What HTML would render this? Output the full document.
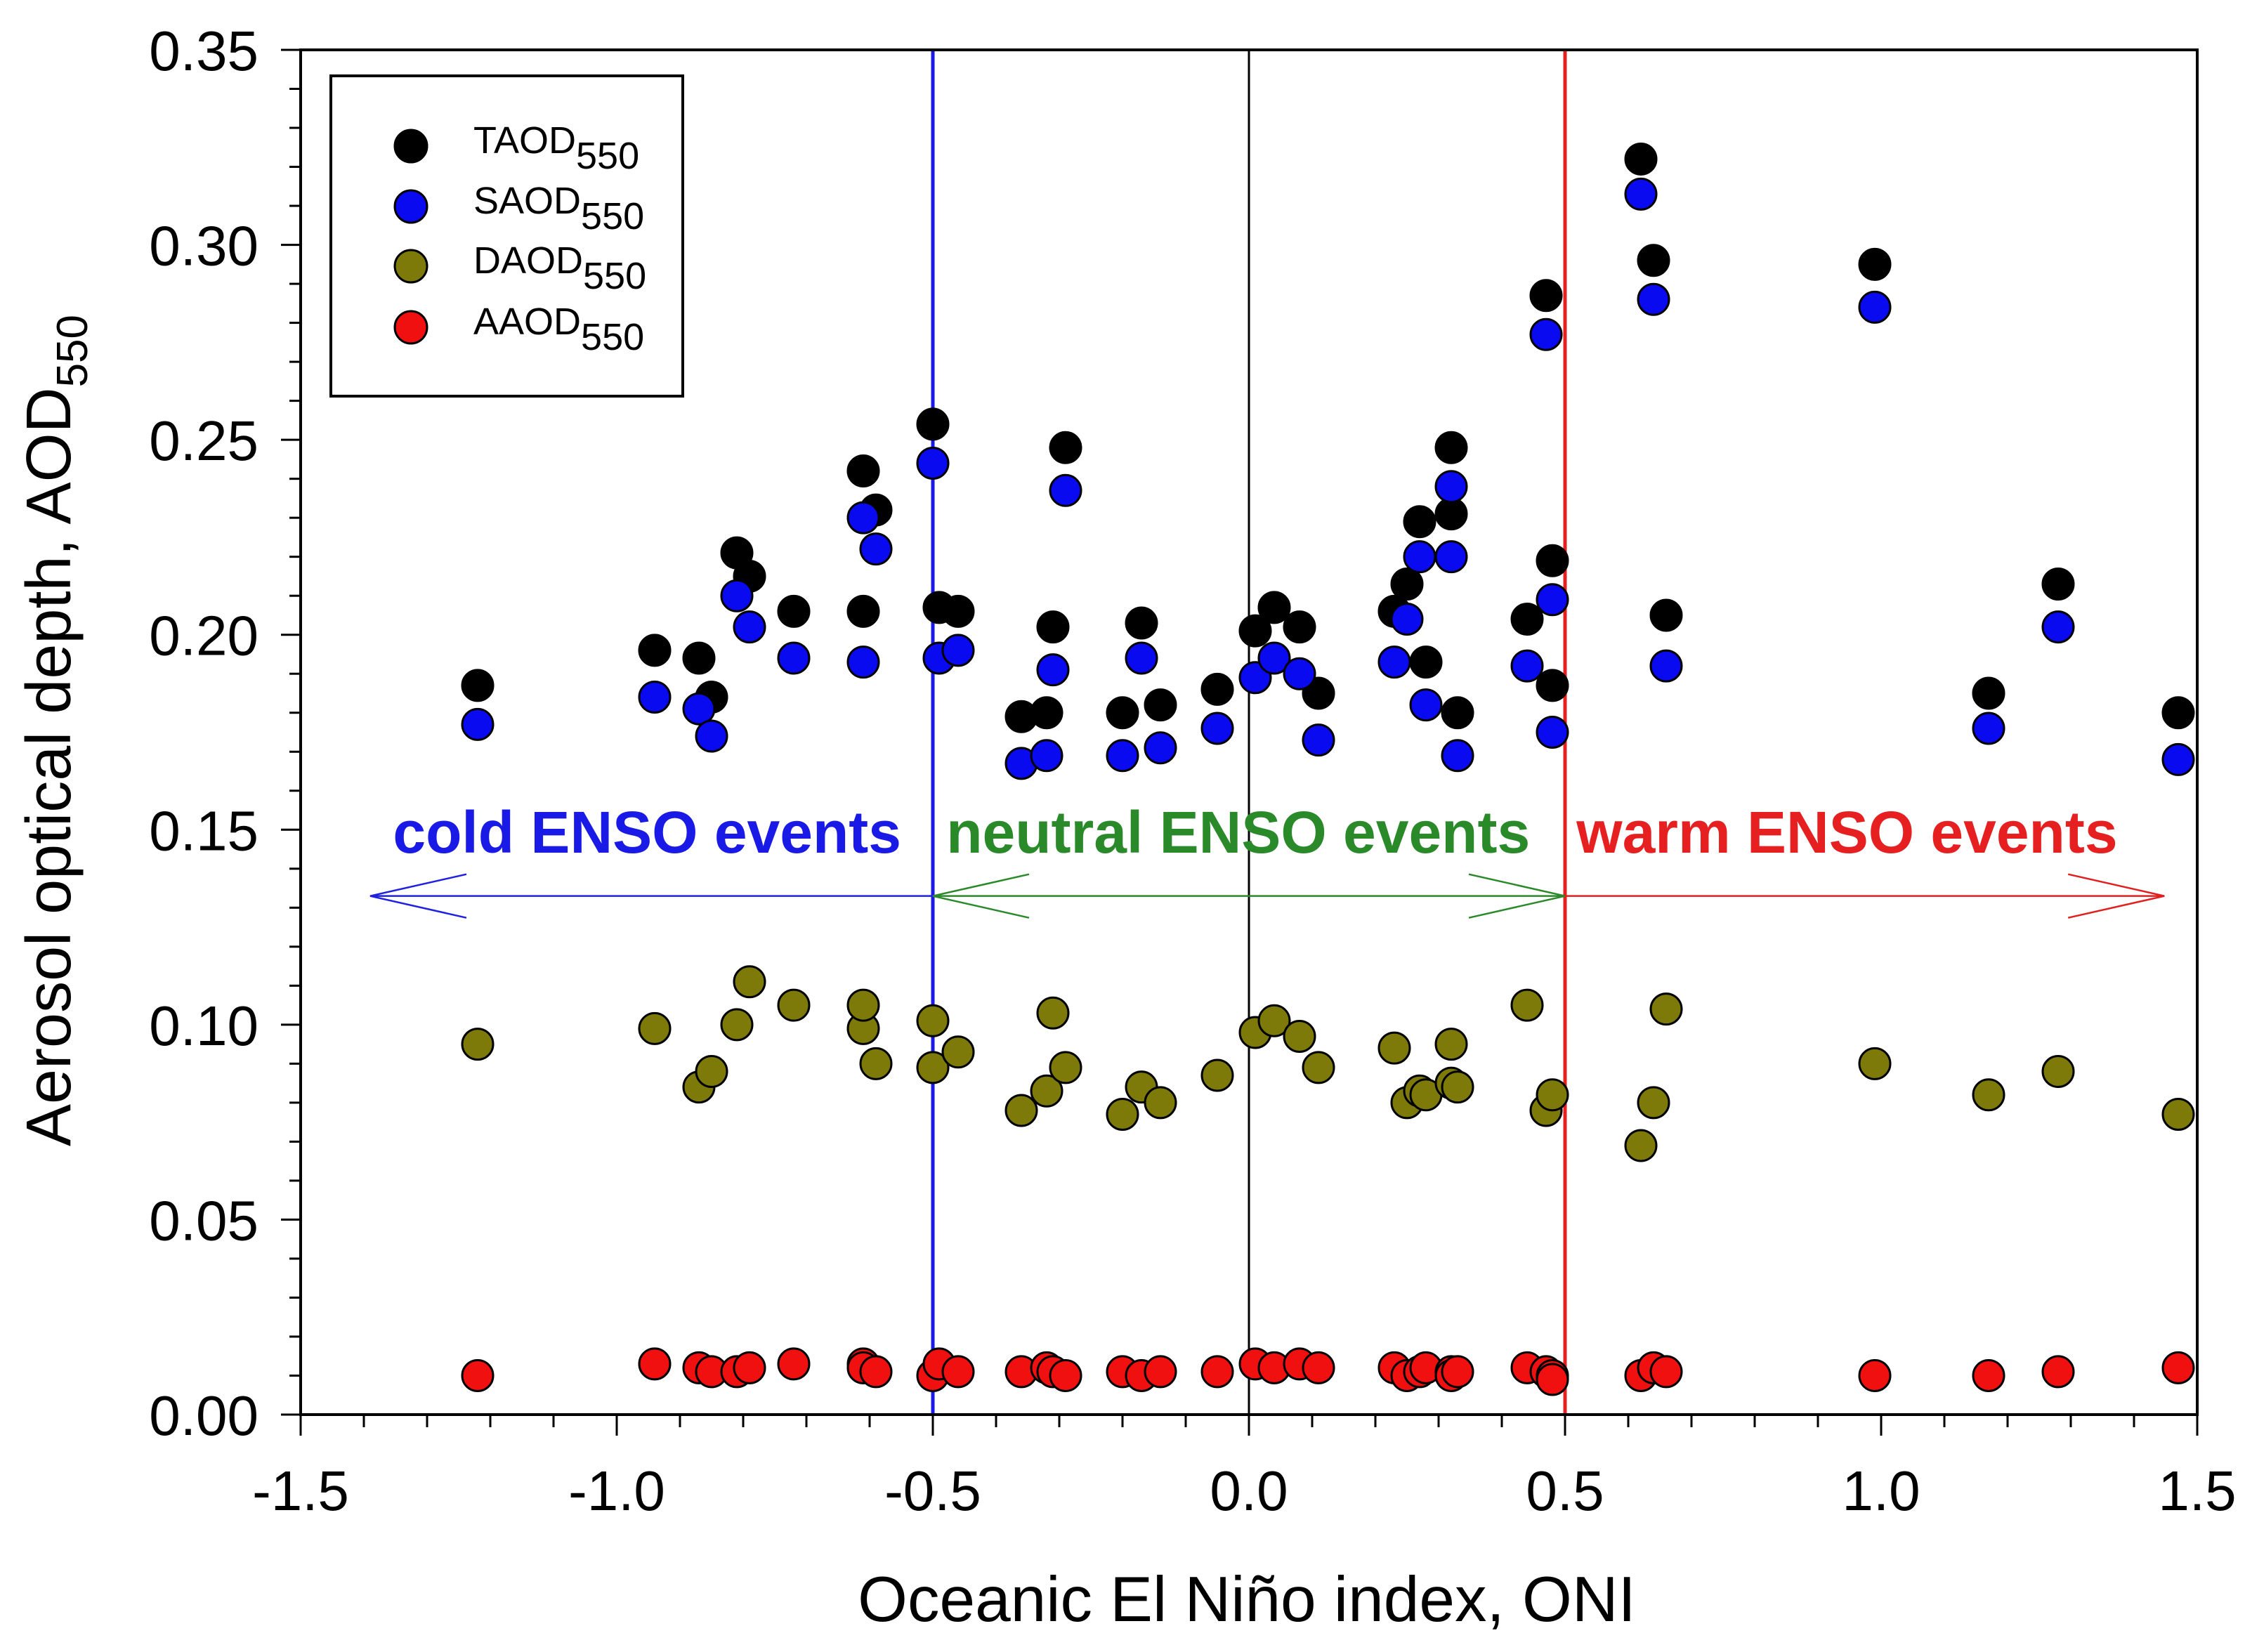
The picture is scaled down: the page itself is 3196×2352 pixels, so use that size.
<!DOCTYPE html>
<html><head><meta charset="utf-8">
<style>
html,body{margin:0;padding:0;background:#fff;}
svg{display:block;font-family:"Liberation Sans",Arial,sans-serif;}
</style></head>
<body>
<svg id="chart" width="3196" height="2352" viewBox="0 0 3196 2352" xmlns="http://www.w3.org/2000/svg">
<rect x="0" y="0" width="3196" height="2352" fill="#fff"/>
<g id="grid"></g>
<g id="marks"></g>
<g id="axes"></g>
</svg>
<script>
const oni = [-1.22,-0.94,-0.87,-0.85,-0.81,-0.79,-0.72,-0.61,-0.61,-0.59,-0.50,-0.49,-0.46,-0.36,-0.32,-0.31,-0.29,-0.20,-0.17,-0.14,-0.05,0.01,0.04,0.08,0.11,0.23,0.25,0.27,0.28,0.32,0.32,0.33,0.44,0.47,0.48,0.48,0.62,0.64,0.66,0.99,1.17,1.28,1.47];
const taod = [0.187,0.196,0.194,0.184,0.221,0.215,0.206,0.206,0.242,0.232,0.254,0.207,0.206,0.179,0.180,0.202,0.248,0.180,0.203,0.182,0.186,0.201,0.207,0.202,0.185,0.206,0.213,0.229,0.193,0.231,0.248,0.180,0.204,0.287,0.219,0.187,0.322,0.296,0.205,0.295,0.185,0.213,0.180];
const saod = [0.177,0.184,0.181,0.174,0.210,0.202,0.194,0.193,0.230,0.222,0.244,0.194,0.196,0.167,0.169,0.191,0.237,0.169,0.194,0.171,0.176,0.189,0.194,0.190,0.173,0.193,0.204,0.220,0.182,0.220,0.238,0.169,0.192,0.277,0.209,0.175,0.313,0.286,0.192,0.284,0.176,0.202,0.168];
const daodX = [-1.22,-0.94,-0.87,-0.85,-0.81,-0.79,-0.72,-0.61,-0.61,-0.59,-0.50,-0.50,-0.46,-0.36,-0.32,-0.31,-0.29,-0.20,-0.17,-0.14,-0.05,0.01,0.04,0.08,0.11,0.23,0.25,0.27,0.28,0.32,0.32,0.33,0.44,0.47,0.48,0.62,0.64,0.66,0.99,1.17,1.28,1.47];
const daod = [0.095,0.099,0.084,0.088,0.100,0.111,0.105,0.099,0.105,0.090,0.101,0.089,0.093,0.078,0.083,0.103,0.089,0.077,0.084,0.080,0.087,0.098,0.101,0.097,0.089,0.094,0.080,0.083,0.082,0.095,0.085,0.084,0.105,0.078,0.082,0.069,0.080,0.104,0.090,0.082,0.088,0.077];
const aaod = [0.010,0.013,0.012,0.011,0.011,0.012,0.013,0.013,0.012,0.011,0.010,0.013,0.011,0.011,0.012,0.011,0.010,0.011,0.010,0.011,0.011,0.013,0.012,0.013,0.012,0.012,0.010,0.011,0.012,0.011,0.010,0.011,0.012,0.011,0.010,0.009,0.010,0.012,0.011,0.010,0.010,0.011,0.012];
const xTicks = ["-1.5","-1.0","-0.5","0.0","0.5","1.0","1.5"];
const yTicks = ["0.00","0.05","0.10","0.15","0.20","0.25","0.30","0.35"];

const NS="http://www.w3.org/2000/svg";
const L=428,R=3128,T=71,B=2014;
const xs=v=>L+(v+1.5)/3*(R-L);
const ys=v=>B-v/0.35*(B-T);
function mk(tag,attrs,parent,text){const e=document.createElementNS(NS,tag);for(const k in attrs)e.setAttribute(k,attrs[k]);if(text!==undefined)e.textContent=text;parent.appendChild(e);return e;}
const grid=document.getElementById('grid'),marks=document.getElementById('marks'),axes=document.getElementById('axes');

[[-0.5,'#1a1ae6',5,'cold-boundary-line'],[0,'#000',3,'zero-line'],[0.5,'#e62020',5,'warm-boundary-line']].forEach(d=>{
  const l=mk('line',{x1:xs(d[0]),x2:xs(d[0]),y1:T,y2:B,stroke:d[1],'stroke-width':d[2]},grid);
  
  
});
const ay=ys(0.133);
function arrow(x1,x2,col,name,heads){
  const g=mk('g',{},grid);
  
  
  mk('line',{x1:xs(x1),x2:xs(x2),y1:ay,y2:ay,stroke:col,'stroke-width':2.5},g);
  heads.forEach(h=>{const x=xs(h[0]),d=h[1];
    mk('polyline',{points:`${x+d*137},${ay-31} ${x},${ay} ${x+d*137},${ay+31}`,fill:'none',stroke:col,'stroke-width':2.5},g);});
}
arrow(-1.39,-0.5,'#2020e0','cold-arrow',[[-1.39,1]]);
arrow(-0.5,0.5,'#2a8a2a','neutral-arrow',[[-0.5,1],[0.5,-1]]);
arrow(0.5,1.448,'#e02020','warm-arrow',[[1.448,-1]]);
[['cold ENSO events',-0.952,'#1a1ae6','cold-label'],['neutral ENSO events',-0.017,'#2a8a2a','neutral-label'],['warm ENSO events',0.946,'#e62020','warm-label']].forEach(d=>{
  const t=mk('text',{x:xs(d[1]),y:1214,'text-anchor':'middle','font-size':84,'font-weight':'bold',fill:d[2]},grid,d[0]);
  
  
});

function series(xa,ya,fill,name){
  const g=mk('g',{},marks);
  
  
  for(let i=0;i<ya.length;i++){
    const c=mk('circle',{cx:xs(xa[i]),cy:ys(ya[i]),r:22,fill:fill,stroke:'#000','stroke-width':3},g);
    
    
  }
}
series(oni,taod,'#000','taod');
series(oni,saod,'#0a0af0','saod');
series(daodX,daod,'#7d7a0a','daod');
series(oni,aaod,'#f01010','aaod');

mk('rect',{x:L,y:T,width:R-L,height:B-T,fill:'none',stroke:'#000','stroke-width':4},axes);
for(let i=0;i<=35;i++){const y=ys(i*0.01);const maj=i%5===0;
  mk('line',{x1:L-(maj?28:16),x2:L,y1:y,y2:y,stroke:'#000','stroke-width':3},axes);}
yTicks.forEach((t,i)=>{const lab=mk('text',{x:368,y:ys(i*0.05)+29,'text-anchor':'end','font-size':80},axes,t);
  
  });
for(let i=0;i<=30;i++){const x=xs(-1.5+i*0.1);const maj=i%5===0;
  mk('line',{x1:x,x2:x,y1:B,y2:B+(maj?30:18),stroke:'#000','stroke-width':3},axes);}
xTicks.forEach((t,i)=>{const lab=mk('text',{x:xs(-1.5+i*0.5),y:2150,'text-anchor':'middle','font-size':80},axes,t);
  
  });
const xt=mk('text',{x:1775,y:2308,'text-anchor':'middle','font-size':91},axes,'Oceanic El Niño index, ONI');


const yt=mk('text',{transform:'translate(100,1040) rotate(-90)','text-anchor':'middle','font-size':90},axes);


mk('tspan',{},yt,'Aerosol optical depth, AOD');
mk('tspan',{'font-size':62,dy:24},yt,'550');

const lg=mk('g',{},axes);


mk('rect',{x:471,y:108,width:501,height:456,fill:'#fff',stroke:'#000','stroke-width':4},lg);
[['TAOD','#000',208],['SAOD','#0a0af0',294],['DAOD','#7d7a0a',379],['AAOD','#f01010',466]].forEach(d=>{
  const e=mk('g',{},lg);
  
  
  mk('circle',{cx:585,cy:d[2],r:23,fill:d[1],stroke:'#000','stroke-width':3},e);
  const t=mk('text',{x:674,y:d[2]+10,'font-size':54},e);
  mk('tspan',{},t,d[0]);
  mk('tspan',{'font-size':54,dy:22},t,'550');
});
</script>
</body></html>
